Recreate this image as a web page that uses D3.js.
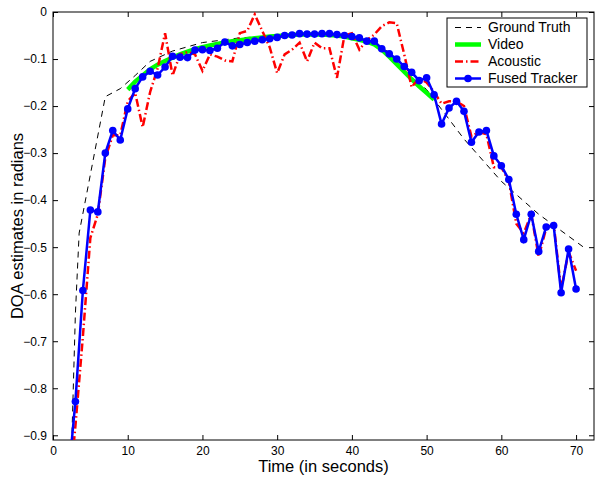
<!DOCTYPE html>
<html>
<head>
<meta charset="utf-8">
<script src="https://cdn.jsdelivr.net/npm/d3@7"></script>
<style>
  body { margin: 0; background: #fff; }
  text { font-family: "Liberation Sans", Arial, Helvetica, sans-serif; }
</style>
</head>
<body>
<div class="chart"></div>
<script>
// ---- data ----
let gtTime = [2, 3, 3.5, 7, 9, 11, 13, 16, 20, 25, 30, 35, 40, 45, 50, 55, 60, 65, 71];
let gtDoa = [-1.2, -0.64, -0.47, -0.18, -0.163, -0.135, -0.105, -0.083, -0.065, -0.055,
    -0.050, -0.048, -0.052, -0.085, -0.165, -0.27, -0.36, -0.43, -0.50];

let videoTime = [10, 11, 12, 13, 14, 15, 16, 17, 18, 19, 20, 21, 22, 23, 24, 25, 26, 27, 28, 29, 30,
    31, 32, 33, 34, 35, 36, 37, 38, 39, 40, 41, 42, 43, 44, 45, 46, 47, 48, 49, 50, 51];
let videoDoa = [-0.165, -0.148, -0.135, -0.122, -0.112, -0.104, -0.097, -0.090, -0.084, -0.079,
    -0.075, -0.071, -0.068, -0.065, -0.062, -0.060, -0.058, -0.056, -0.054, -0.052, -0.051,
    -0.050, -0.049, -0.048, -0.048, -0.048, -0.048, -0.049, -0.050, -0.052, -0.056, -0.059,
    -0.063, -0.069, -0.080, -0.095, -0.111, -0.127, -0.143, -0.158, -0.172, -0.186];

let trackTime = [2, 3, 4, 5, 6, 7, 8, 9, 10, 11, 12, 13, 14, 15, 16, 17, 18, 19, 20, 21, 22, 23,
    24, 25, 26, 27, 28, 29, 30, 31, 32, 33, 34, 35, 36, 37, 38, 39, 40, 41, 42, 43, 44, 45, 46,
    47, 48, 49, 50, 51, 52, 53, 54, 55, 56, 57, 58, 59, 60, 61, 62, 63, 64, 65, 66, 67, 68, 69, 70];
let acousticDoa = [-1.05, -0.88, -0.69, -0.48, -0.43, -0.31, -0.262, -0.262, -0.19, -0.172,
    -0.245, -0.17, -0.12, -0.045, -0.135, -0.09, -0.085, -0.09, -0.125, -0.09, -0.095, -0.103,
    -0.105, -0.045, -0.04, -0.005, -0.04, -0.075, -0.13, -0.09, -0.08, -0.065, -0.105, -0.065,
    -0.077, -0.077, -0.14, -0.05, -0.045, -0.08, -0.06, -0.048, -0.03, -0.022, -0.024, -0.09,
    -0.16, -0.14, -0.15, -0.17, -0.195, -0.19, -0.19, -0.20, -0.265, -0.255, -0.26, -0.33,
    -0.33, -0.36, -0.45, -0.47, -0.43, -0.52, -0.46, -0.45, -0.59, -0.51, -0.55];
let fusedDoa = [-1.0, -0.828, -0.592, -0.421, -0.425, -0.300, -0.252, -0.272, -0.206, -0.163,
    -0.138, -0.126, -0.134, -0.117, -0.094, -0.096, -0.097, -0.081, -0.080, -0.082, -0.077,
    -0.064, -0.072, -0.069, -0.065, -0.062, -0.059, -0.057, -0.054, -0.050, -0.049, -0.046,
    -0.047, -0.047, -0.046, -0.046, -0.048, -0.050, -0.052, -0.055, -0.062, -0.062, -0.078,
    -0.089, -0.100, -0.116, -0.128, -0.146, -0.140, -0.176, -0.238, -0.204, -0.190, -0.211,
    -0.277, -0.255, -0.252, -0.306, -0.327, -0.356, -0.430, -0.484, -0.430, -0.509, -0.457,
    -0.454, -0.597, -0.504, -0.589];

let xTicks = [0, 10, 20, 30, 40, 50, 60, 70];
let yTicks = [0, -0.1, -0.2, -0.3, -0.4, -0.5, -0.6, -0.7, -0.8, -0.9];
let legendNames = ['Ground Truth', 'Video', 'Acoustic', 'Fused Tracker'];

// ---- layout ----
let plotLeft = 53, plotRight = 594, plotTop = 12, plotBottom = 440;

let svg = d3.select('.chart')
    .append('svg')
    .attr('width', 595)
    .attr('height', 477);

let x = d3.scaleLinear().domain([0, 72.4]).range([plotLeft, plotRight]);
let y = d3.scaleLinear().domain([-0.91, 0]).range([plotBottom, plotTop]);

svg.append('defs').append('clipPath')
    .attr('id', 'plotClip')
    .append('rect')
    .attr('x', plotLeft)
    .attr('y', plotTop)
    .attr('width', plotRight - plotLeft)
    .attr('height', plotBottom - plotTop);

let yFmt = d => d === 0 ? '0' : d3.format('.1f')(d);

// axes (ticks point inward, like matlab)
svg.append('g')
    .attr('transform', 'translate(0,' + plotBottom + ')')
    .call(d3.axisBottom(x).tickValues(xTicks).tickSize(-5).tickPadding(6).tickFormat(d3.format('d')))
    .call(g => g.select('.domain').remove())
    .selectAll('text').style('font-size', '12px');
svg.append('g')
    .attr('transform', 'translate(0,' + plotTop + ')')
    .call(d3.axisTop(x).tickValues(xTicks).tickSize(-5).tickFormat(''))
    .call(g => g.select('.domain').remove());
svg.append('g')
    .attr('transform', 'translate(' + plotLeft + ',0)')
    .call(d3.axisLeft(y).tickValues(yTicks).tickSize(-5).tickPadding(6).tickFormat(yFmt))
    .call(g => g.select('.domain').remove())
    .selectAll('text').style('font-size', '12px');
svg.append('g')
    .attr('transform', 'translate(' + plotRight + ',0)')
    .call(d3.axisRight(y).tickValues(yTicks).tickSize(-5).tickFormat(''))
    .call(g => g.select('.domain').remove());

svg.append('rect')
    .attr('x', plotLeft)
    .attr('y', plotTop)
    .attr('width', plotRight - plotLeft)
    .attr('height', plotBottom - plotTop)
    .attr('fill', 'none')
    .attr('stroke', '#000')
    .attr('stroke-width', 1);

// series
let line = d3.line().x(d => x(d[0])).y(d => y(d[1]));
let plot = svg.append('g').attr('clip-path', 'url(#plotClip)');

plot.append('path')
    .datum(d3.zip(gtTime, gtDoa))
    .attr('d', line)
    .attr('fill', 'none')
    .attr('stroke', '#000')
    .attr('stroke-width', 1)
    .attr('stroke-dasharray', '6,5');

plot.append('path')
    .datum(d3.zip(videoTime, videoDoa))
    .attr('d', line)
    .attr('fill', 'none')
    .attr('stroke', '#00ff00')
    .attr('stroke-width', 4.5);

plot.append('path')
    .datum(d3.zip(trackTime, acousticDoa))
    .attr('d', line)
    .attr('fill', 'none')
    .attr('stroke', '#ff0000')
    .attr('stroke-width', 2.5)
    .attr('stroke-dasharray', '8,3,1.5,3');

plot.append('path')
    .datum(d3.zip(trackTime, fusedDoa))
    .attr('d', line)
    .attr('fill', 'none')
    .attr('stroke', '#0000ff')
    .attr('stroke-width', 2.5);

plot.selectAll('circle.fused')
    .data(d3.zip(trackTime, fusedDoa))
    .enter()
    .append('circle')
    .attr('class', 'fused')
    .attr('cx', d => x(d[0]))
    .attr('cy', d => y(d[1]))
    .attr('r', 3.8)
    .attr('fill', '#0000ff');

// axis labels
svg.append('text')
    .attr('x', (plotLeft + plotRight) / 2)
    .attr('y', 472)
    .attr('text-anchor', 'middle')
    .style('font-size', '16.5px')
    .text('Time (in seconds)');
svg.append('text')
    .attr('transform', 'translate(23,' + (plotTop + plotBottom) / 2 + ') rotate(-90)')
    .attr('text-anchor', 'middle')
    .style('font-size', '16.5px')
    .text('DOA estimates in radians');

// legend
let legend = svg.append('g');
legend.append('rect')
    .attr('x', 447)
    .attr('y', 18)
    .attr('width', 140)
    .attr('height', 69)
    .attr('fill', '#fff')
    .attr('stroke', '#000')
    .attr('stroke-width', 1);

let styles = [
    {color: '#000', width: 1, dash: '6,5'},
    {color: '#00ff00', width: 4.5, dash: null},
    {color: '#ff0000', width: 2.5, dash: '8,3,1.5,3'},
    {color: '#0000ff', width: 2.5, dash: null}
];
legendNames.forEach((name, i) => {
    let ly = 27.5 + i * 17;
    legend.append('line')
        .attr('x1', 455)
        .attr('x2', 481)
        .attr('y1', ly)
        .attr('y2', ly)
        .attr('stroke', styles[i].color)
        .attr('stroke-width', styles[i].width)
        .attr('stroke-dasharray', styles[i].dash);
    if (i === 3) {
        legend.append('circle')
            .attr('cx', 468)
            .attr('cy', ly)
            .attr('r', 3.8)
            .attr('fill', '#0000ff');
    }
    legend.append('text')
        .attr('x', 488)
        .attr('y', ly)
        .attr('dy', '0.35em')
        .style('font-size', '14px')
        .text(name);
});
</script>
</body>
</html>
